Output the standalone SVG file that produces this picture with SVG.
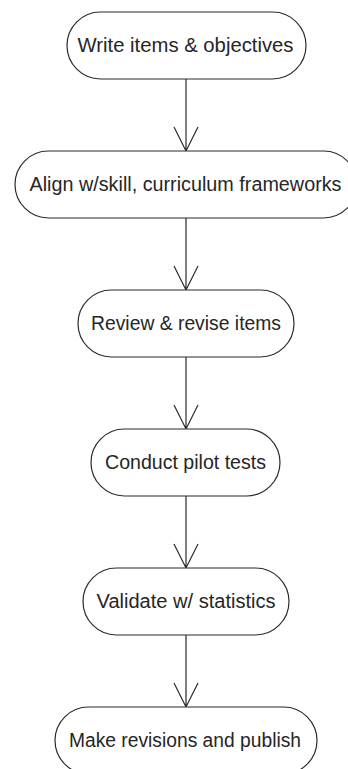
<svg xmlns="http://www.w3.org/2000/svg" width="348" height="769" viewBox="0 0 348 769">
<style>
.node rect{fill:#fff;stroke:#2b2b2b;stroke-width:1.2}
.node text{font-family:"Liberation Sans",Arial,sans-serif;font-size:19.5px;fill:#262626;text-anchor:middle}
.edge{fill:none;stroke:#2b2b2b;stroke-width:1.2}
</style>
<rect width="348" height="769" fill="#fff"/>
<g id="connectors">
<path class="edge" d="M186 79V151M174 127L186 151L198 127"/>
<path class="edge" d="M186 218V290M174 266L186 290L198 266"/>
<path class="edge" d="M186 357V429M174 405L186 429L198 405"/>
<path class="edge" d="M186 496V568M174 544L186 568L198 544"/>
<path class="edge" d="M186 635V707M174 683L186 707L198 683"/>
</g>
<g id="n1" class="node"><rect x="67" y="12" width="239" height="67" rx="33.5"/><text x="185.5" y="52" textLength="216" lengthAdjust="spacingAndGlyphs">Write items &amp; objectives</text></g>
<g id="n2" class="node"><rect x="15" y="151" width="342" height="67" rx="33.5"/><text x="185.5" y="191" textLength="312" lengthAdjust="spacingAndGlyphs">Align w/skill, curriculum frameworks</text></g>
<g id="n3" class="node"><rect x="78" y="290" width="216" height="67" rx="33.5"/><text x="186" y="330" textLength="190" lengthAdjust="spacingAndGlyphs">Review &amp; revise items</text></g>
<g id="n4" class="node"><rect x="91" y="429" width="189" height="67" rx="33.5"/><text x="185.5" y="469" textLength="161" lengthAdjust="spacingAndGlyphs">Conduct pilot tests</text></g>
<g id="n5" class="node"><rect x="83" y="568" width="206" height="67" rx="33.5"/><text x="186" y="608" textLength="179" lengthAdjust="spacingAndGlyphs">Validate w/ statistics</text></g>
<g id="n6" class="node"><rect x="55" y="707" width="262" height="67" rx="33.5"/><text x="185" y="747" textLength="232" lengthAdjust="spacingAndGlyphs">Make revisions and publish</text></g>
</svg>
